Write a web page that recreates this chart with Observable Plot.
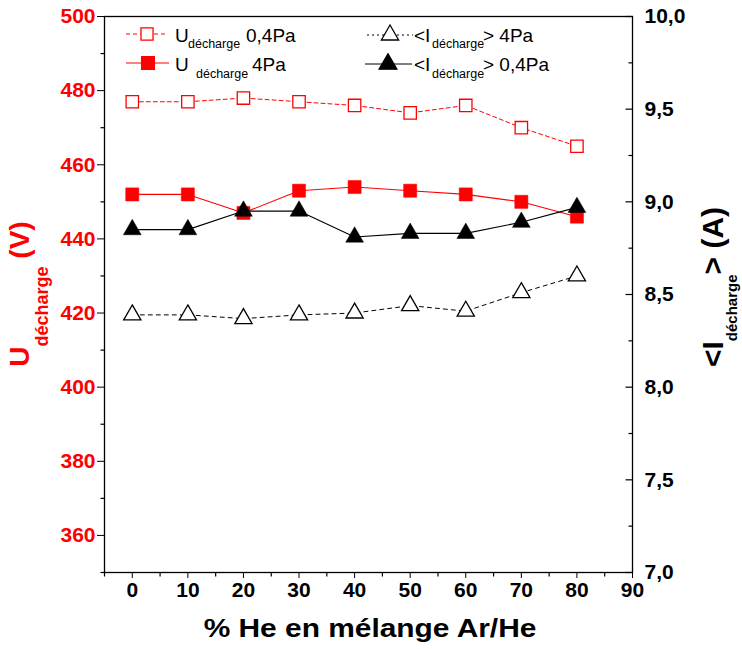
<!DOCTYPE html>
<html>
<head>
<meta charset="utf-8">
<script src="https://cdn.jsdelivr.net/npm/d3@7"></script>
<script src="https://cdn.jsdelivr.net/npm/@observablehq/plot@0.6"></script>
<style>
  html, body { margin: 0; padding: 0; background: white; }
  #chart { position: relative; width: 742px; height: 649px; }
</style>
</head>
<body>
<div id="chart"></div>
<script>
// ---- data ----
const heliumPct = [0, 10, 20, 30, 40, 50, 60, 70, 80];
const uDecharge04Pa = [477, 477, 478, 477, 476, 474, 476, 470, 465];   // V, open squares
const uDecharge4Pa  = [452, 452, 447, 453, 454, 453, 452, 450, 446];   // V, filled squares
const iDecharge4Pa  = [8.39, 8.39, 8.37, 8.39, 8.40, 8.44, 8.41, 8.51, 8.60]; // A, open triangles
const iDecharge04Pa = [8.85, 8.85, 8.95, 8.95, 8.81, 8.83, 8.83, 8.89, 8.97]; // A, filled triangles

// axes
const xDomain = [-5, 90];
const uDomain = [350, 500];
const iDomain = [7, 10];
const xMajor = [0, 10, 20, 30, 40, 50, 60, 70, 80, 90];
const xMinor = [-5, 5, 15, 25, 35, 45, 55, 65, 75, 85];
const uMajor = [360, 380, 400, 420, 440, 460, 480, 500];
const uMinor = [350, 370, 390, 410, 430, 450, 470, 490];
const iMajor = [7.0, 7.5, 8.0, 8.5, 9.0, 9.5, 10.0];
const iMinor = [7.25, 7.75, 8.25, 8.75, 9.25, 9.75];

// secondary axis mapping (current -> voltage scale)
const iToU = d3.scaleLinear().domain(iDomain).range(uDomain);

const rows = (ys) => heliumPct.map((x, k) => ({x, y: ys[k]}));
const sU04 = rows(uDecharge04Pa);
const sU4 = rows(uDecharge4Pa);
const sI4 = rows(iDecharge4Pa.map(v => iToU(v)));
const sI04 = rows(iDecharge04Pa.map(v => iToU(v)));

const FONT = "'Liberation Sans', Arial, Helvetica, sans-serif";
const fmtI = v => v.toFixed(1).replace(".", ",");

// tick glyphs as custom symbols (length = r)
const tickLeft = {draw(ctx, size) { const l = Math.sqrt(size / Math.PI); ctx.moveTo(0, 0); ctx.lineTo(-l, 0); }};
const tickDown = {draw(ctx, size) { const l = Math.sqrt(size / Math.PI); ctx.moveTo(0, 0); ctx.lineTo(0, l); }};

const xLeft = () => xDomain[0], xRight = () => xDomain[1], yBottom = () => uDomain[0];

const chart = Plot.plot({
  width: 742,
  height: 649,
  marginLeft: 104,
  marginRight: 110,
  marginTop: 16,
  marginBottom: 77,
  style: {fontFamily: FONT, fontSize: "21px", fontWeight: "bold", background: "white", overflow: "visible"},
  x: {domain: xDomain, ticks: xMajor, tickSize: 6, tickPadding: 4, tickFormat: d => String(d), label: null},
  y: {domain: uDomain, ticks: uMajor, tickSize: 7, tickPadding: 2, tickFormat: d => String(d), label: null},
  marks: [
    // minor ticks, left (outward)
    Plot.dot(uMinor, {x: xLeft, y: d => d, symbol: tickLeft, r: 4, stroke: "black", strokeWidth: 1.2}),
    // minor ticks, bottom (outward)
    Plot.dot(xMinor, {x: d => d, y: yBottom, symbol: tickDown, r: 4, stroke: "black", strokeWidth: 1.2}),
    // right axis (current), inward ticks + labels
    Plot.dot(iMajor, {x: xRight, y: d => iToU(d), symbol: tickLeft, r: 7, stroke: "black", strokeWidth: 1.2}),
    Plot.dot(iMinor, {x: xRight, y: d => iToU(d), symbol: tickLeft, r: 4, stroke: "black", strokeWidth: 1.2}),
    Plot.text(iMajor, {x: xRight, y: d => iToU(d), text: fmtI, textAnchor: "start", dx: 12,
      fontSize: 21, fontWeight: "bold", fill: "black"}),
    Plot.frame({stroke: "black", strokeWidth: 1.3}),
    // lines
    Plot.line(sU04, {x: "x", y: "y", stroke: "#ff0000", strokeWidth: 1, strokeDasharray: "4,3"}),
    Plot.line(sU4, {x: "x", y: "y", stroke: "#ff0000", strokeWidth: 1.1}),
    Plot.line(sI4, {x: "x", y: "y", stroke: "black", strokeWidth: 1, strokeDasharray: "4,4"}),
    Plot.line(sI04, {x: "x", y: "y", stroke: "black", strokeWidth: 1.1}),
    // markers
    Plot.dot(sU04, {x: "x", y: "y", symbol: "square", r: 7, fill: "white", stroke: "#ff0000", strokeWidth: 1.3}),
    Plot.dot(sU4, {x: "x", y: "y", symbol: "square", r: 7.4, fill: "#ff0000", stroke: "#ff0000", strokeWidth: 0.5}),
    Plot.dot(sI4, {x: "x", y: "y", symbol: "triangle", r: 6.4, fill: "white", stroke: "black", strokeWidth: 1.3}),
    Plot.dot(sI04, {x: "x", y: "y", symbol: "triangle", r: 6.6, fill: "black", stroke: "black", strokeWidth: 0.5})
  ]
});

document.getElementById("chart").appendChild(chart);

const svg = d3.select(chart);
// colour the left (voltage) axis labels red
svg.selectAll('[aria-label^="y-axis"] text').attr("fill", "#ff0000");
svg.selectAll('[aria-label^="y-axis"] line, [aria-label^="y-axis"] path').attr("stroke", "black");
svg.selectAll('[aria-label^="x-axis"] line, [aria-label^="y-axis"] line').attr("stroke-width", 1.2);

// ---- titles & legend (SVG text) ----
const g = svg.append("g").attr("font-family", FONT).attr("text-anchor", "start");

// x title (slightly wide face, as in the original)
g.append("text")
  .attr("transform", "translate(370,637) scale(1.15,1)")
  .attr("text-anchor", "middle")
  .attr("font-size", 26).attr("font-weight", "bold").attr("fill", "black")
  .text("% He en mélange Ar/He");

// left title (red, rotated)
{
  const t = g.append("text")
    .attr("transform", "translate(29,294) rotate(-90)")
    .attr("text-anchor", "middle")
    .attr("fill", "#ff0000").attr("font-weight", "bold");
  t.append("tspan").attr("font-size", 28).text("U");
  t.append("tspan").attr("font-size", 18).attr("dy", 19).text("décharge");
  t.append("tspan").attr("font-size", 28).attr("dy", -19).text(" (V)");
}
// right title (black, rotated)
{
  const t = g.append("text")
    .attr("transform", "translate(723,287) rotate(-90)")
    .attr("text-anchor", "middle")
    .attr("fill", "black").attr("font-weight", "bold");
  t.append("tspan").attr("font-size", 30).text("<I");
  t.append("tspan").attr("font-size", 15).attr("dy", 14).text("décharge");
  t.append("tspan").attr("font-size", 30).attr("dy", -14).text("> (A)");
}

// legend
const sym = (type, r) => d3.symbol().type(type).size(Math.PI * r * r)();
const L = g.append("g").attr("font-weight", "normal").attr("fill", "black").attr("text-anchor", "start");
function legendItem({x1, x2, cx, cy, stroke, dash, symType, r, fill, symStroke, pieces}) {
  L.append("line").attr("x1", x1).attr("x2", x2).attr("y1", cy).attr("y2", cy)
    .attr("stroke", stroke).attr("stroke-width", 1).attr("stroke-dasharray", dash || null);
  L.append("path").attr("d", sym(symType, r)).attr("transform", `translate(${cx},${cy})`)
    .attr("fill", fill).attr("stroke", symStroke).attr("stroke-width", 1.3);
  for (const p of pieces) {
    L.append("text").attr("x", p.x).attr("y", p.y).attr("font-size", p.size).text(p.t);
  }
}
legendItem({x1: 126, x2: 167, cx: 147, cy: 34, stroke: "#ff0000", dash: "4,3", symType: d3.symbolSquare, r: 6.8,
  fill: "white", symStroke: "#ff0000",
  pieces: [{x: 175, y: 42, size: 19, t: "U"}, {x: 188, y: 48, size: 12.5, t: "décharge"}, {x: 246, y: 42, size: 19, t: "0,4Pa"}]});
legendItem({x1: 126, x2: 169, cx: 148, cy: 63, stroke: "#ff0000", symType: d3.symbolSquare, r: 7.2,
  fill: "#ff0000", symStroke: "#ff0000",
  pieces: [{x: 175, y: 71, size: 19, t: "U"}, {x: 196, y: 78, size: 12.5, t: "décharge"}, {x: 252, y: 71, size: 19, t: "4Pa"}]});
legendItem({x1: 367, x2: 413, cx: 390, cy: 35, stroke: "black", dash: "2,3", symType: d3.symbolTriangle, r: 6.4,
  fill: "white", symStroke: "black",
  pieces: [{x: 414, y: 42, size: 19, t: "<I"}, {x: 432, y: 48, size: 12.5, t: "décharge"}, {x: 483, y: 42, size: 19, t: "> 4Pa"}]});
legendItem({x1: 365, x2: 412, cx: 388, cy: 64, stroke: "black", symType: d3.symbolTriangle, r: 6.6,
  fill: "black", symStroke: "black",
  pieces: [{x: 414, y: 71, size: 19, t: "<I"}, {x: 432, y: 78, size: 12.5, t: "décharge"}, {x: 483, y: 71, size: 19, t: "> 0,4Pa"}]});
</script>
</body>
</html>
